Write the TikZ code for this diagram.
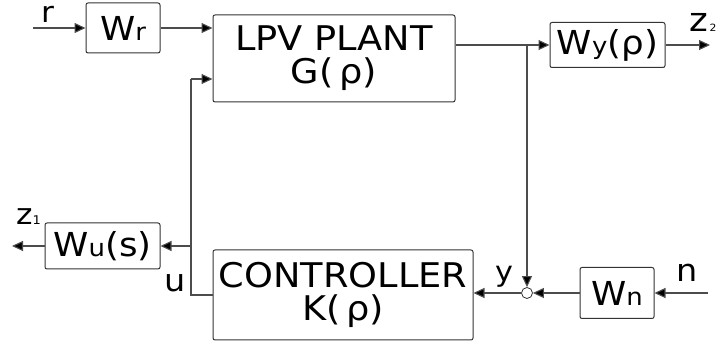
\documentclass[tikz,border=0pt]{standalone}
\usepackage{fontspec}
\setmainfont{DejaVu Sans}[FakeStretch=1.08]
\usetikzlibrary{arrows.meta}
\begin{document}
\begin{tikzpicture}[x=1pt,y=-1pt,
  line/.style={draw=black!70,line width=1.1pt},
  arr/.style={line,-{Triangle[length=11pt,width=10pt,fill=black]}},
  blk/.style={draw=black!80,line width=1pt,rounded corners=2pt,inner sep=0pt,anchor=center},
  big/.style={font=\fontsize{34}{33}\selectfont},
  mid/.style={font=\fontsize{33}{36}\selectfont},
  lbl/.style={font=\fontsize{31}{32}\selectfont,inner sep=0pt,anchor=base}]
\useasboundingbox (0,0) rectangle (721,344);
\newcommand{\smalltxt}[1]{{\fontsize{24}{26}\selectfont #1}}
% blocks
\node[blk,minimum width=74pt,minimum height=50pt,mid] (wr) at (123,28) {W\smalltxt{r}};
\node[blk,minimum width=242pt,minimum height=87pt,big,align=center] (plant) at (334,58.5) {LPV PLANT\\G(\,ρ)};
\node[blk,minimum width=115pt,minimum height=45pt,mid] (wy) at (607.5,45) {W\smalltxt{y}(ρ)};
\node[blk,minimum width=115pt,minimum height=46pt,mid] (wu) at (102.5,246) {W\smalltxt{u}(s)};
\node[blk,minimum width=260pt,minimum height=90pt,big,align=center] (ctrl) at (343,295) {CONTROLLER\\K(\,ρ)};
\node[blk,minimum width=74pt,minimum height=51pt,mid] (wn) at (617,293) {W\smalltxt{n}};
\node[draw=black!80,line width=0.8pt,circle,minimum size=11pt,inner sep=0pt] (sum) at (527,293) {};
% coordinates
\coordinate (rin) at (33,28);
\coordinate (pin2) at (191,79);
\coordinate (cl) at (191,295);
\coordinate (ub) at (191,246);
\coordinate (z1o) at (12,246);
\coordinate (yb) at (527,45);
\coordinate (z2o) at (710,45);
\coordinate (nin) at (708,293);
% connectors
\draw[arr] (rin) -- (wr.west);
\draw[arr] (wr.east) -- (wr.east -| plant.west);
\draw[line] (ctrl.west) -- (cl) -- (pin2);
\draw[arr] (pin2) -- (pin2 -| plant.west);
\draw[arr] (ub) -- (wu.east);
\draw[arr] (wu.west) -- (z1o);
\draw[arr] (plant.east |- wy.west) -- (wy.west);
\draw[arr] (yb) -- (sum.north);
\draw[arr] (wy.east) -- (z2o);
\draw[arr] (nin) -- (wn.east);
\draw[arr] (wn.west) -- (sum.east);
\draw[arr] (sum.west) -- (sum.west -| ctrl.east);
% labels
\node[lbl,font=\fontsize{29}{30}\selectfont] (lr) at (48,23) {r};
\node[lbl,anchor=base west,font=\fontsize{29}{30}\selectfont] (lz1) at (16,225) {z\fontsize{12}{13}\selectfont 1};
\node[lbl] (lu) at (175,292) {u};
\node[lbl,font=\fontsize{28}{30}\selectfont] (ly) at (504,282) {y};
\node[lbl] (ln) at (687,282) {n};
\node[lbl,anchor=base west,font=\fontsize{33}{34}\selectfont] (lz2) at (689,32) {z\fontsize{10}{11}\selectfont\,2};
\end{tikzpicture}
\end{document}
